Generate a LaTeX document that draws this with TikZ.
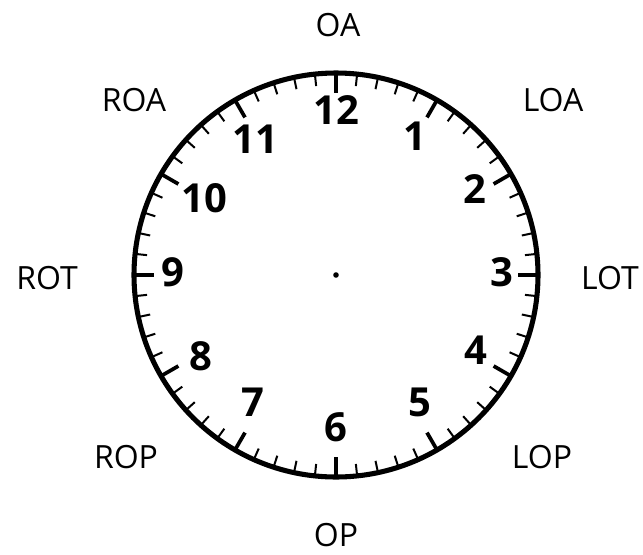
\documentclass[tikz,border=0pt]{standalone}
\usepackage{fontspec}
\setmainfont{Open Sans}
\usetikzlibrary{calc}
\begin{document}
\begin{tikzpicture}[x=0.75pt,y=-0.75pt,
  lbl/.style={inner sep=0pt,font=\fontsize{24}{28}\selectfont},
  hour/.style={inner sep=0pt,font=\fontsize{30}{34}\selectfont\bfseries},
  rim/.style={line width=3.8pt},
  majortick/.style={line width=2.8pt},
  minortick/.style={line width=1.5pt}]
\useasboundingbox (0,0) rectangle (643,554);
\coordinate (c) at (336,275);
\draw[rim] (c) circle[radius=202];
\foreach \i in {0,...,59}{
  \pgfmathsetmacro{\ang}{90-6*\i}
  \pgfmathtruncatemacro{\ismaj}{mod(\i,5)==0 ? 1 : 0}
  \ifnum\ismaj=1
    \draw[majortick] ($(c)+(\ang:201)$) -- ($(c)+(\ang:182)$);
  \else
    \draw[minortick] ($(c)+(\ang:201)$) -- ($(c)+(\ang:190)$);
  \fi
}
\fill (c) circle[radius=2.8];
\node[hour] (h12) at (336,110) {12};
\node[hour] (h1) at (415,136) {1};
\node[hour] (h2) at (475,189) {2};
\node[hour] (h3) at (502,272) {3};
\node[hour] (h4) at (476,350) {4};
\node[hour] (h5) at (420,402) {5};
\node[hour] (h6) at (336,427) {6};
\node[hour] (h7) at (253,402) {7};
\node[hour] (h8) at (201,356) {8};
\node[hour] (h9) at (173,272) {9};
\node[hour] (h10) at (204,198) {10};
\node[hour] (h11) at (255,139) {11};
\node[lbl] (oa) at (338,25) {OA};
\node[lbl] (roa) at (134,100) {ROA};
\node[lbl] (loa) at (553,100) {LOA};
\node[lbl] (rot) at (47,278) {ROT};
\node[lbl] (lot) at (610,278) {LOT};
\node[lbl] (rop) at (126,457) {ROP};
\node[lbl] (lop) at (542,457) {LOP};
\node[lbl] (op) at (336,535) {OP};
\end{tikzpicture}
\end{document}
